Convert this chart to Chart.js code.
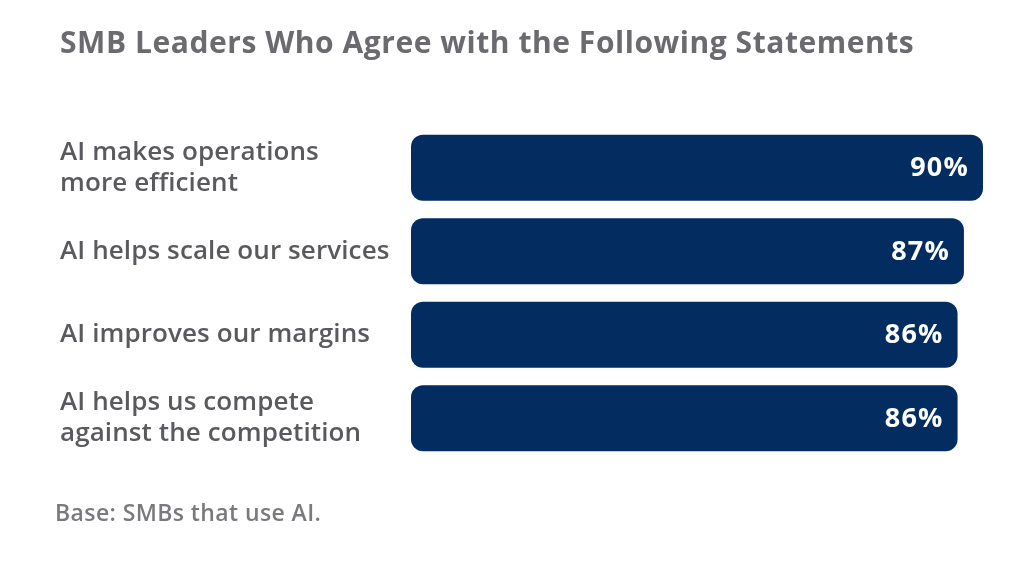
<!DOCTYPE html>
<html>
<head>
<meta charset="utf-8">
<script src="https://cdn.jsdelivr.net/npm/chart.js@4"></script>
<style>
  html, body { margin: 0; padding: 0; background: #ffffff; }
  #wrap { position: relative; width: 1034px; height: 562px; overflow: hidden; }
  #title { position: absolute; left: 60px; top: 21px; font-family: "Open Sans", sans-serif; font-weight: 700; font-size: 30px; color: #6b6b6f; white-space: nowrap; letter-spacing: 0.55px; }
  #note { position: absolute; left: 55px; top: 496px; font-family: "Open Sans", sans-serif; font-weight: 600; font-size: 23px; color: #7a7a7e; white-space: nowrap; letter-spacing: 0.4px; }
  canvas { position: absolute; left: 0; top: 0; }
</style>
</head>
<body>
<div id="wrap">
  <canvas id="c" width="1034" height="562"></canvas>
  <div id="title">SMB Leaders Who Agree with the Following Statements</div>
  <div id="note">Base: SMBs that use AI.</div>
</div>
<script>
const categories = [
  ["AI makes operations", "more efficient"],
  ["AI helps scale our services"],
  ["AI improves our margins"],
  ["AI helps us compete", "against the competition"]
];
const values = [90, 87, 86, 86];
const valueLabels = ["90%", "87%", "86%", "86%"];

const barColor = "#032d60";
const textGray = "#5a5a5e";

const spacingPlugin = {
  id: "spacing",
  beforeDraw(chart) { chart.ctx.letterSpacing = "0.1px"; },
  afterDraw(chart) { chart.ctx.letterSpacing = "0px"; }
};

const valueLabelPlugin = {
  id: "valueLabels",
  afterDatasetsDraw(chart) {
    const ctx = chart.ctx;
    const meta = chart.getDatasetMeta(0);
    ctx.save();
    ctx.letterSpacing = "1.2px";
    ctx.font = "700 27px 'Open Sans', sans-serif";
    ctx.fillStyle = "#ffffff";
    ctx.textAlign = "right";
    ctx.textBaseline = "middle";
    meta.data.forEach((bar, i) => {
      ctx.fillText(valueLabels[i], bar.x - 14, bar.y + 1);
    });
    ctx.restore();
  }
};

new Chart(document.getElementById("c"), {
  type: "bar",
  data: {
    labels: categories,
    datasets: [{
      data: values,
      backgroundColor: barColor,
      borderRadius: 12,
      borderSkipped: false,
      barPercentage: 0.79,
      categoryPercentage: 1.0
    }]
  },
  options: {
    indexAxis: "y",
    responsive: false,
    animation: false,
    devicePixelRatio: 1,
    layout: { padding: { left: 60, right: 51, top: 126, bottom: 102 } },
    plugins: {
      legend: { display: false },
      tooltip: { enabled: false },
      title: { display: false }
    },
    scales: {
      x: {
        display: false,
        min: 0,
        max: 90
      },
      y: {
        grid: { display: false },
        border: { display: false },
        ticks: {
          crossAlign: "far",
          color: textGray,
          font: { family: "'Open Sans', sans-serif", size: 26, weight: 600, lineHeight: 1.2 },
          padding: 0
        },
        afterFit(scale) { scale.width = 351; }
      }
    }
  },
  plugins: [spacingPlugin, valueLabelPlugin]
});
</script>
</body>
</html>
